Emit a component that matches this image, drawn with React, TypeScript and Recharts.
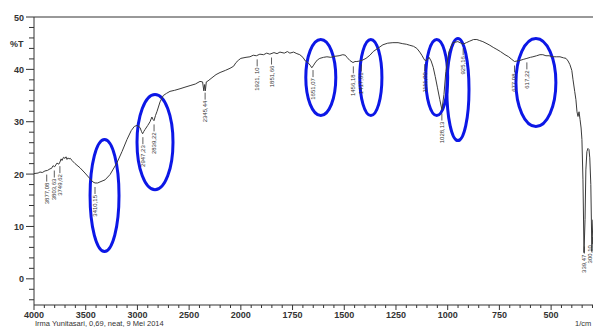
import { LineChart, Line, XAxis, YAxis, ReferenceLine, ReferenceArea, ReferenceDot, Customized } from 'recharts';

// spectrum (1/cm, %T)
const wavenumbers = [
  4000, 3960, 3942, 3920, 3894, 3870, 3845, 3830, 3816, 3800, 3778, 3760, 3749, 3738, 3729, 3715, 3700, 3690,
  3681, 3670, 3662, 3648, 3633, 3603, 3555, 3507, 3458, 3430, 3410, 3385, 3362, 3313, 3265, 3197, 3149, 3101,
  3060, 3030, 3004, 2975, 2960, 2950, 2940, 2927, 2900, 2878, 2860, 2848, 2840, 2825, 2810, 2781, 2750, 2720,
  2685, 2640, 2588, 2540, 2491, 2440, 2395, 2370, 2358, 2350, 2343, 2334, 2317, 2279, 2240, 2201, 2150, 2105,
  2070, 2047, 2020, 2000, 1975, 1956, 1940, 1925, 1908, 1890, 1875, 1860, 1840, 1825, 1811, 1790, 1775, 1763,
  1745, 1729, 1715, 1700, 1688, 1676, 1665, 1657, 1648, 1642, 1630, 1618, 1600, 1584, 1565, 1545, 1525, 1507,
  1495, 1487, 1473, 1458, 1448, 1439, 1425, 1410, 1395, 1376, 1360, 1342, 1313, 1290, 1265, 1240, 1217, 1200,
  1183, 1165, 1149, 1135, 1125, 1115, 1110, 1100, 1090, 1080, 1070, 1060, 1050, 1038, 1028, 1018, 1009, 994,
  975, 951, 935, 926, 910, 893, 875, 859, 845, 830, 810, 796, 780, 762, 745, 723, 705, 690, 677, 665, 651, 635,
  617, 600, 588, 570, 554, 540, 525, 510, 491, 475, 457, 440, 428, 418, 409, 400, 394, 386, 380, 375, 370, 365,
  360, 355, 351, 346, 341, 336, 332, 327, 322, 317, 313, 308, 303, 298,
];
const transmittance = [
  20.1, 20.2, 20.4, 20.3, 20.6, 20.7, 21.0, 21.1, 21.6, 21.4, 22.1, 21.9, 22.3, 22.9, 22.6, 23.2, 23.0, 23.3,
  22.8, 23.1, 22.9, 23.0, 22.6, 22.0, 21.2, 20.2, 19.1, 18.5, 18.3, 18.3, 18.5, 18.9, 19.9, 22.2, 24.3, 26.6,
  28.3, 29.1, 29.3, 28.9, 28.1, 27.7, 28.1, 28.5, 29.3, 30.0, 30.9, 30.4, 30.2, 31.2, 32.0, 33.8, 35.0, 35.4,
  35.8, 36.0, 36.3, 36.6, 36.9, 37.2, 37.7, 37.6, 35.9, 37.1, 35.9, 37.6, 37.8, 38.4, 39.0, 39.4, 39.8, 40.2,
  40.6, 41.3, 41.8, 42.1, 42.3, 42.4, 42.7, 42.6, 42.9, 42.8, 43.1, 42.9, 43.2, 43.0, 43.3, 43.1, 43.4, 43.1,
  43.3, 43.0, 42.8, 42.3, 41.6, 41.3, 40.8, 40.3, 40.8, 41.2, 41.8, 42.1, 42.3, 42.4, 42.3, 42.5, 42.6, 42.8,
  42.7, 42.3, 41.7, 41.3, 41.5, 41.5, 41.6, 41.8, 42.1, 42.7, 43.4, 43.9, 44.7, 45.0, 45.1, 45.1, 44.9, 44.8,
  44.6, 44.4, 44.0, 43.3, 42.7, 42.0, 41.7, 41.8, 42.3, 41.6, 40.4, 38.6, 36.6, 34.2, 32.3, 35.2, 39.6, 43.4,
  45.1, 45.3, 45.0, 44.8, 45.1, 45.4, 45.7, 45.7, 45.5, 45.3, 44.9, 44.6, 44.2, 43.8, 43.4, 42.8, 42.4, 41.9,
  41.5, 41.6, 41.7, 41.9, 42.1, 42.3, 42.4, 42.6, 42.8, 42.8, 42.6, 42.6, 42.4, 42.4, 42.4, 42.2, 42.1, 41.6,
  40.9, 39.8, 38.0, 35.8, 34.2, 31.9, 31.0, 31.9, 30.4, 28.8, 26.6, 18.9, 5.0, 11.3, 20.8, 24.3, 24.9, 24.7,
  23.1, 18.0, 5.2, 11.3,
];

// peak picks
const peakWavenumbers = [3877.08, 3803.63, 3749.62, 3410.15, 2947.23, 2839.22, 2345.44, 1921.1, 1851.66, 1651.07, 1456.18, 1417.61, 1111.0, 1028.13, 925.16, 677.08, 617.22, 339.47, 300.1];
const peakLabels = ['3877,08', '3803,63', '3749,62', '3410,15', '2947,23', '2839,22', '2345,44', '1921, 10', '1851,66', '1651,07', '1456,18', '1417,61', '1111,00', '1028,13', '925,16', '677,08', '617,22', '339,47', '300,10'];

// blue circled regions: wavenumber span and %T span
const circleFrom = [3458, 3004, 1686, 1425, 1106, 1004, 670];
const circleTo = [3178, 2656, 1541, 1318, 1000, 897, 477];
const circleTop = [26.6, 35.2, 45.7, 45.7, 45.7, 45.9, 45.9];
const circleBottom = [5.2, 17.0, 31.2, 31.2, 31.2, 26.4, 29.1];

const xTickLabels = [4000, 3500, 3000, 2500, 2000, 1750, 1500, 1250, 1000, 750, 500];
const yTickLabels = [0, 10, 20, 30, 40, 50];

// instrument axis: 500/div above 2000, 250/div below
const toAxis = (w: number) => (w >= 2000 ? (4000 - w) / 500 : 4 + (2000 - w) / 250);

const data = wavenumbers.map((w, i) => ({ t: toAxis(w), T: transmittance[i] }));

const interpT = (w: number) => {
  for (let i = 0; i < wavenumbers.length - 1; i++) {
    const a = wavenumbers[i];
    const b = wavenumbers[i + 1];
    if (w <= a && w >= b) {
      const f = (a - w) / (a - b);
      return transmittance[i] + f * (transmittance[i + 1] - transmittance[i]);
    }
  }
  return transmittance[transmittance.length - 1];
};

const xMajor = xTickLabels.map(toAxis);
const xTicks: number[] = [];
for (let i = 0; i <= 54; i++) xTicks.push(Math.round(i * 2) / 10);
const yTicks: number[] = [];
for (let v = -4; v <= 50; v += 2) yTicks.push(v);

const FONT = '"Liberation Sans", Arial, sans-serif';
const INK = '#333';
const BLUE = '#0c17e6';

const XTick = ({ x, y, payload }: any) => {
  const idx = xMajor.findIndex((m) => Math.abs(m - payload.value) < 1e-6);
  const major = idx >= 0;
  return (
    <g>
      <line x1={x} y1={y} x2={x} y2={y + (major ? 5 : 3)} stroke={INK} />
      {major && (
        <text x={x} y={y + 12.5} textAnchor="middle" fontSize={9} fontWeight="bold" fontFamily={FONT} fill={INK}>
          {xTickLabels[idx]}
        </text>
      )}
    </g>
  );
};

const YTick = ({ x, y, payload }: any) => {
  const major = yTickLabels.includes(payload.value);
  return (
    <g>
      <line x1={x - (major ? 8 : 5)} y1={y} x2={x} y2={y} stroke={INK} />
      {major && (
        <text x={x - 10} y={y + 3.5} textAnchor="end" fontSize={9} fontWeight="bold" fontFamily={FONT} fill={INK}>
          {payload.value}
        </text>
      )}
    </g>
  );
};

const peakShape = (label: string) => (props: any) => {
  const { cx, cy } = props;
  const top = cy + 4;
  const tx = Math.min(cx, 590); // keep the last pick inside the page
  return (
    <g>
      <line x1={cx} y1={top} x2={cx} y2={top + 7} stroke={INK} strokeWidth={0.8} />
      <text
        x={tx}
        y={top + 8}
        transform={`rotate(-90 ${tx} ${top + 8})`}
        textAnchor="end"
        dominantBaseline="central"
        fontSize={6}
        fontFamily={FONT}
        fill={INK}
      >
        {label}
      </text>
    </g>
  );
};

const ellipseShape = (props: any) => {
  const { x, y, width, height } = props;
  return (
    <ellipse cx={x + width / 2} cy={y + height / 2} rx={width / 2} ry={height / 2} fill="none" stroke={BLUE} strokeWidth={3} />
  );
};

const Captions = () => (
  <g fontFamily={FONT} fill={INK}>
    <text x={10} y={47} fontSize={9} fontWeight="bold">%T</text>
    <text x={35} y={326} fontSize={7.5}>Irma Yunitasari, 0,69, neat, 9 Mei 2014</text>
    <text x={575} y={326} fontSize={7.5}>1/cm</text>
  </g>
);

export default function App() {
  return (
    <div style={{ position: 'absolute', left: 0, top: 0, width: 593, height: 327, background: '#fff' }}>
      <LineChart width={593} height={327} data={data} margin={{ top: 17, right: 0, bottom: 0, left: 0 }}>
        <XAxis
          dataKey="t"
          type="number"
          domain={[0, 10.81]}
          allowDataOverflow
          ticks={xTicks}
          interval={0}
          height={22}
          tickSize={0}
          tickMargin={0}
          tickLine={false}
          tick={<XTick />}
          axisLine={{ stroke: INK }}
        />
        <YAxis
          type="number"
          domain={[-5, 50]}
          allowDataOverflow
          ticks={yTicks}
          interval={0}
          width={34}
          tickSize={0}
          tickMargin={0}
          tickLine={false}
          tick={<YTick />}
          axisLine={{ stroke: INK }}
        />
        <ReferenceLine y={50} stroke={INK} ifOverflow="visible" />
        <Line dataKey="T" type="linear" stroke="#3a3a3a" strokeWidth={1} dot={false} isAnimationActive={false} />
        {peakWavenumbers.map((w, i) => (
          <ReferenceDot
            key={peakLabels[i]}
            x={toAxis(w)}
            y={interpT(w)}
            r={0}
            ifOverflow="visible"
            shape={peakShape(peakLabels[i])}
          />
        ))}
        {circleFrom.map((w, i) => (
          <ReferenceArea
            key={w}
            x1={toAxis(w)}
            x2={toAxis(circleTo[i])}
            y1={circleBottom[i]}
            y2={circleTop[i]}
            ifOverflow="visible"
            shape={ellipseShape}
          />
        ))}
        <Customized component={Captions} />
      </LineChart>
    </div>
  );
}
